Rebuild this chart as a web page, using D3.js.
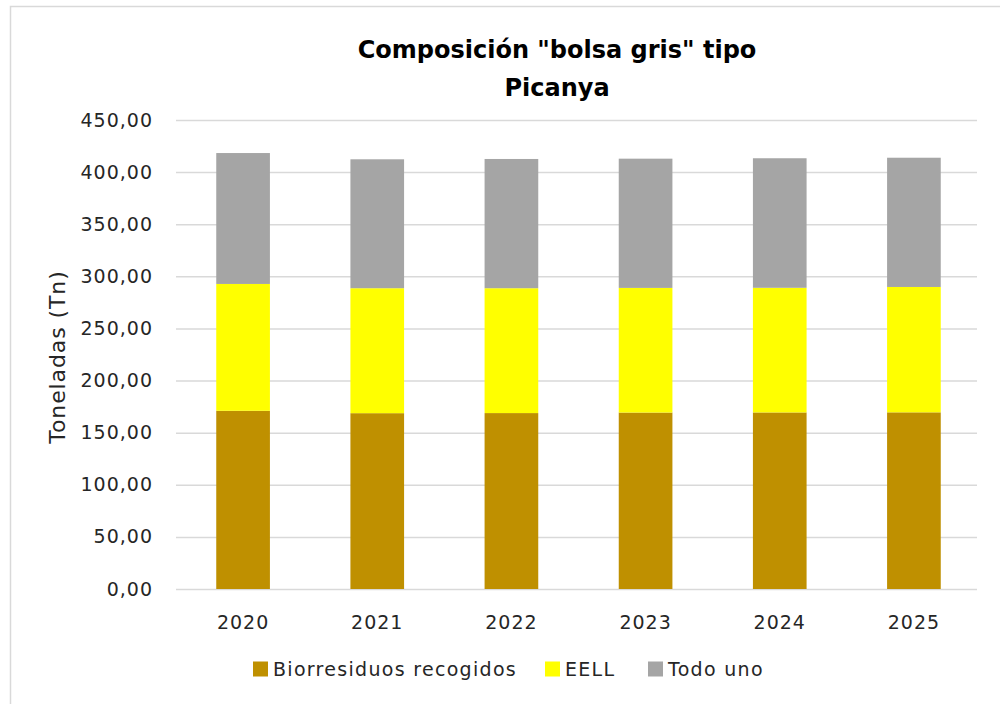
<!DOCTYPE html>
<html>
<head>
<meta charset="utf-8">
<script src="https://cdn.jsdelivr.net/npm/d3@7"></script>
<style>
  body { margin: 0; background: #fff; }
  svg { display: block; font-family: "DejaVu Sans", sans-serif; }
</style>
</head>
<body>
<div id="chart"></div>
<script>
// chart data
const years = ['2020', '2021', '2022', '2023', '2024', '2025'];
const biorresiduos = [171.0, 168.7, 168.8, 169.3, 169.4, 169.5];
const eell = [121.7, 119.9, 119.8, 119.6, 119.6, 120.3];
const todoUno = [125.6, 123.7, 124.0, 124.0, 124.3, 124.0];
const seriesNames = ['Biorresiduos recogidos', 'EELL', 'Todo uno'];
const seriesColors = ['#bf9000', '#ffff00', '#a5a5a5'];
const yTicks = [0, 50, 100, 150, 200, 250, 300, 350, 400, 450];

const width = 1000;
const height = 704;
const margin = { top: 120, right: 19, bottom: 115, left: 176 };
const textColor = '#262626';

const svg = d3.select('#chart')
  .append('svg')
  .attr('width', width)
  .attr('height', height);

// light frame of the chart area
svg.append('rect')
  .attr('x', 10.5).attr('y', 6.5)
  .attr('width', 1200).attr('height', 1200)
  .attr('fill', 'none')
  .attr('stroke', '#d9d9d9')
  .attr('stroke-width', 1.5);

const rows = years.map((y, i) => ({
  year: y,
  'Biorresiduos recogidos': biorresiduos[i],
  'EELL': eell[i],
  'Todo uno': todoUno[i]
}));
const stacked = d3.stack().keys(seriesNames)(rows);

const x = d3.scaleBand()
  .domain(years)
  .range([margin.left, width - margin.right])
  .paddingInner(0.6)
  .paddingOuter(0.3);

const y = d3.scaleLinear()
  .domain([0, 450])
  .range([height - margin.bottom, margin.top]);

// gridlines
svg.append('g')
  .attr('class', 'grid')
  .attr('transform', `translate(${margin.left},0)`)
  .call(d3.axisLeft(y).tickValues(yTicks).tickFormat('').tickSize(-(width - margin.left - margin.right - 4)))
  .call(g => g.select('.domain').remove())
  .call(g => g.selectAll('line').attr('stroke', '#d9d9d9').attr('stroke-width', 1.5));

// bars
const color = d3.scaleOrdinal().domain(seriesNames).range(seriesColors);
svg.append('g')
  .selectAll('g')
  .data(stacked)
  .join('g')
  .attr('fill', d => color(d.key))
  .selectAll('rect')
  .data(d => d)
  .join('rect')
  .attr('x', d => x(d.data.year))
  .attr('y', d => y(d[1]))
  .attr('height', d => y(d[0]) - y(d[1]))
  .attr('width', x.bandwidth());

// y axis labels
const fmt = d => d.toFixed(2).replace('.', ',');
svg.append('g')
  .attr('transform', `translate(${margin.left},0)`)
  .call(d3.axisLeft(y).tickValues(yTicks).tickFormat(fmt).tickSize(0).tickPadding(23))
  .call(g => g.select('.domain').remove())
  .call(g => g.selectAll('text')
    .attr('font-family', '"DejaVu Sans", sans-serif')
    .attr('font-size', 19)
    .attr('letter-spacing', 1)
    .attr('fill', textColor));

// x axis labels
svg.append('g')
  .attr('transform', `translate(0,${height - margin.bottom})`)
  .call(d3.axisBottom(x).tickSize(0).tickPadding(27))
  .call(g => g.select('.domain').remove())
  .call(g => g.selectAll('text')
    .attr('font-family', '"DejaVu Sans", sans-serif')
    .attr('font-size', 19)
    .attr('letter-spacing', 1)
    .attr('fill', textColor));

// y axis title
svg.append('text')
  .attr('transform', 'translate(65,357) rotate(-90)')
  .attr('text-anchor', 'middle')
  .attr('font-size', 22)
  .attr('letter-spacing', 0.9)
  .attr('fill', textColor)
  .text('Toneladas (Tn)');

// title
const title = svg.append('text')
  .attr('text-anchor', 'middle')
  .attr('font-weight', 'bold')
  .attr('font-size', 24)
  .attr('fill', '#000');
title.append('tspan').attr('x', 557).attr('y', 58).text('Composición "bolsa gris" tipo');
title.append('tspan').attr('x', 557).attr('y', 96).text('Picanya');

// legend
const legendX = [253, 545, 648];
const legend = svg.append('g')
  .selectAll('g')
  .data(seriesNames)
  .join('g')
  .attr('transform', (d, i) => `translate(${legendX[i]},669)`);
legend.append('rect')
  .attr('x', 0).attr('y', -7.5)
  .attr('width', 15).attr('height', 15)
  .attr('fill', d => color(d));
legend.append('text')
  .attr('x', 20).attr('dy', '0.35em')
  .attr('font-size', 19)
  .attr('letter-spacing', 1.3)
  .attr('fill', textColor)
  .text(d => d);
</script>
</body>
</html>
